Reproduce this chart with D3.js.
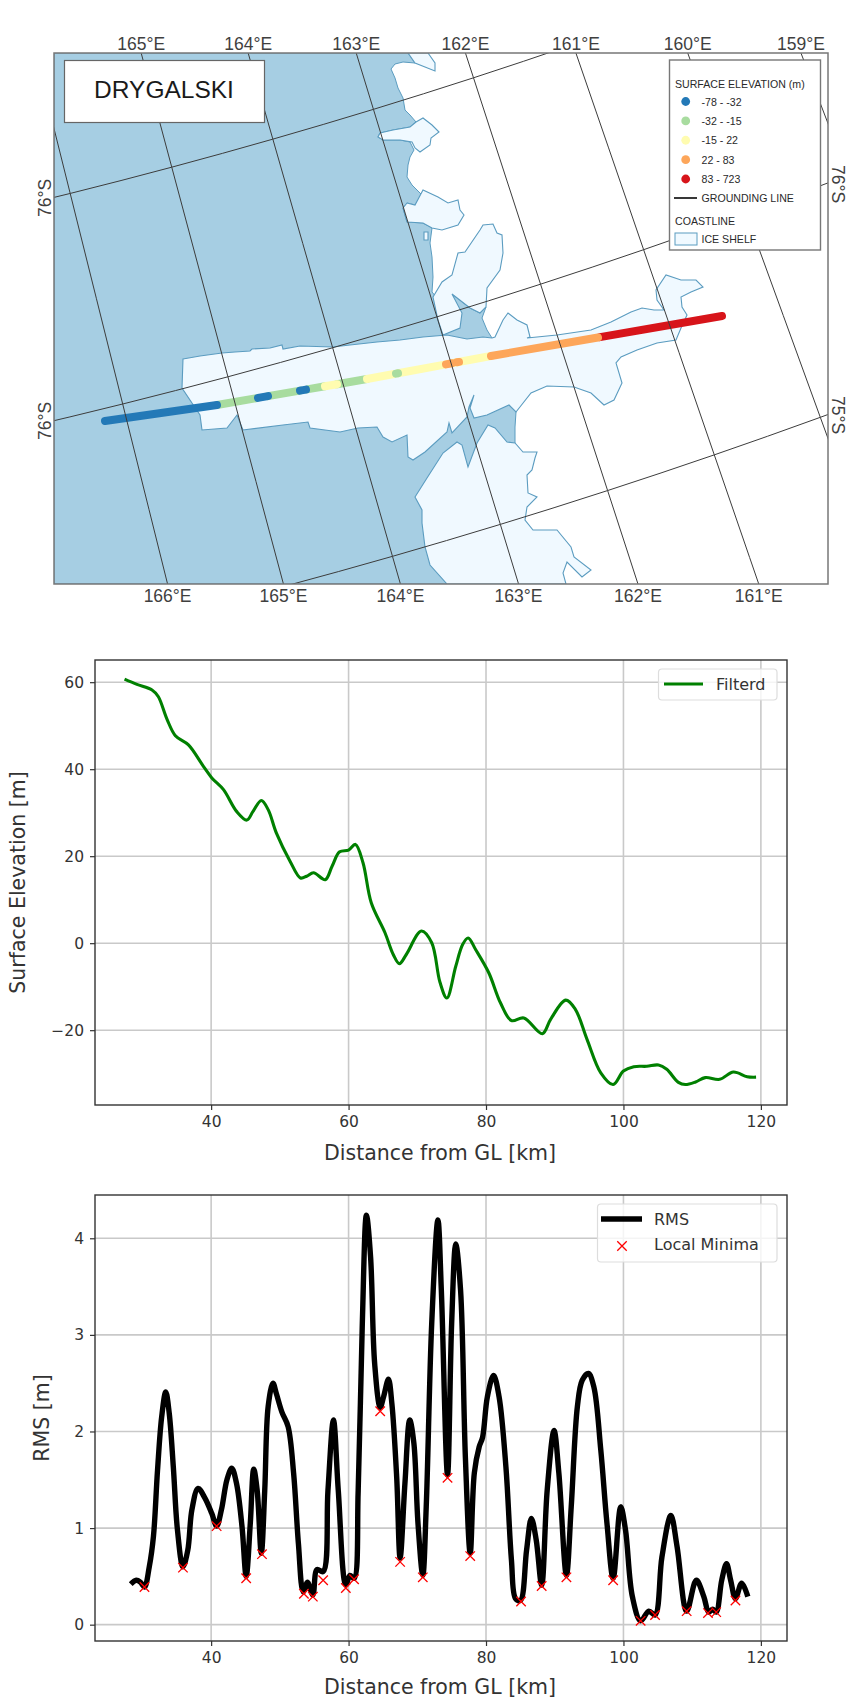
<!DOCTYPE html>
<html>
<head>
<meta charset="utf-8">
<script src="https://cdn.jsdelivr.net/npm/d3@7"></script>
<style>
  body { margin: 0; background: #fff; }
  svg { display: block; }
  .mpl text { font-family: "DejaVu Sans"; fill: #333; }
  .map text { font-family: "Liberation Sans"; }
</style>
</head>
<body>
<div id="wrapper"></div>
<script>
////// MAP DATA //////
let meridians = [159, 160, 161, 162, 163, 164, 165, 166];
let parallels = [-76.5, -76, -75.5];
let topLabels = [[165, '165°E'], [164, '164°E'], [163, '163°E'], [162, '162°E'], [161, '161°E'], [160, '160°E'], [159, '159°E']];
let bottomLabels = [[166, '166°E'], [165, '165°E'], [164, '164°E'], [163, '163°E'], [162, '162°E'], [161, '161°E']];

// outlines are in map units, origin at the top left of the frame
let waterOutline = [[0,0],[354,0],[361,10],[349,9],[341,11],[337,16],[341,25],[344,35],[349,45],[351,57],[356,62],[362,69],[356,74],[339,77],[326,80],[324,84],[329,87],[346,87],[356,89],[360,97],[356,104],[354,112],[353,124],[358,132],[368,142],[361,152],[353,150],[349,155],[353,169],[369,170],[378,175],[376,190],[378,204],[379,224],[378,239],[383,245],[398,241],[416,255],[426,260],[432,254],[428,265],[433,277],[438,285],[462,359],[461,374],[461,390],[393,531],[0,531]];
let shelfTop = [[354,0],[361,10],[371,14],[381,18],[381,10],[374,0]];
let shelfSmall = [[326,80],[339,77],[356,74],[362,69],[369,65],[378,72],[385,79],[377,85],[376,92],[366,99],[361,95],[358,89],[346,87],[329,87],[324,84]];
let shelfMid = [[353,150],[361,152],[369,137],[384,144],[394,150],[404,147],[406,157],[410,162],[404,172],[388,177],[378,175],[369,170],[353,169],[349,155]];
let shelfIsland = [[370,179],[374,179],[374,187],[370,187]];
let shelfNorth = [[379,244],[388,229],[398,222],[404,200],[411,199],[426,177],[429,172],[439,171],[443,180],[448,182],[449,200],[446,217],[433,235],[432,254],[426,260],[416,255],[398,241],[408,260],[406,275],[389,282],[384,267]];
let shelfMain = [[129,306],[146,303],[168,300],[181,299],[196,298],[198,296],[216,295],[228,292],[229,296],[246,293],[279,294],[296,292],[323,289],[346,287],[369,284],[393,282],[413,286],[429,284],[438,285],[441,284],[449,267],[454,260],[463,267],[473,272],[476,284],[473,285],[503,282],[537,277],[557,269],[577,259],[588,255],[600,257],[610,257],[603,247],[602,237],[612,222],[627,227],[642,227],[649,234],[637,239],[627,244],[628,254],[633,262],[627,275],[622,287],[603,290],[583,297],[567,304],[562,310],[568,330],[560,347],[550,352],[537,340],[520,334],[493,333],[477,340],[462,359],[455,352],[433,362],[420,365],[416,355],[420,342],[415,354],[413,364],[398,380],[395,370],[393,379],[371,399],[359,407],[354,404],[353,382],[338,389],[329,384],[323,374],[304,375],[286,379],[256,375],[254,369],[229,372],[189,377],[183,362],[173,375],[148,377],[146,362],[144,359],[128,335]];
let shelfSouth = [[361,444],[373,425],[389,400],[403,389],[408,392],[414,414],[423,390],[434,372],[441,375],[453,389],[461,390],[469,399],[483,399],[481,405],[478,417],[473,422],[474,440],[483,444],[473,454],[471,467],[479,477],[503,477],[517,494],[520,504],[537,517],[528,524],[513,509],[509,520],[512,531],[393,531],[376,512],[371,494],[368,470],[368,457]];

let trackEast = [51, 163, 313, 437, 547, 668];
let trackNorth = [368, 352, 326, 303, 284, 263];
// [from, to, elevation class], drawn in this order
let trackSegments = [
  [163,203,1],[214,246,1],[253,271,1],[283,313,1],
  [51,163,0],[204,214,0],[246,252,0],
  [271,283,2],[313,340,2],[344,392,2],[399,437,2],
  [342,344,1],[392,398,3],[403,405,3],
  [546,668,4],[437,544,3]
];

let elevClasses = ['-78 - -32', '-32 - -15', '-15 - 22', '22 - 83', '83 - 723'];
let elevColors = ['#2379b7', '#a8dc9f', '#fffcb0', '#fda65a', '#d7141a'];

////// PROFILE DATA //////
let surfaceKm = [27.4,29.2,31.4,32.3,33.6,34.8,36.7,38.9,40.1,41.8,43.7,45.2,46.1,47.3,48.3,49.5,51.5,53,53.9,54.9,56.6,57.6,58.7,60,61,62.1,63.3,65.3,66.5,67.4,68.4,70.6,72.1,73.3,74.3,75.6,76.6,77.4,78.5,80.4,82.1,83.7,85.5,88.2,89.4,91.6,93,94.7,96.7,98.5,100,101.5,103.4,105.1,106.3,108,109,110.5,111.9,114,116,118,119.3];
let surfaceElev = [60.7,59.5,58.2,56.7,51.4,47.7,45.6,40.6,38,35.3,30.3,28.3,30.3,32.8,30.7,25.3,18.8,15,15.4,16.2,14.6,17.7,21,21.4,22.7,18.5,9.3,2.4,-2.6,-4.7,-2.6,2.8,0.1,-9,-12.6,-5.3,-0.3,1.2,-1.5,-6.8,-13.7,-17.8,-17.2,-20.8,-17.5,-13.1,-15.2,-22.1,-29.8,-32.5,-29.4,-28.4,-28.3,-28,-29,-32,-32.5,-31.9,-30.9,-31.3,-29.6,-30.7,-30.8];

let rmsKm = [28.3,29.1,29.7,30.3,31,31.6,32.2,32.8,33.4,33.9,34.5,35.1,35.9,36.6,37.2,38.1,39.1,40.1,40.8,41.5,42.3,43,43.7,44.5,45.1,45.7,46.2,46.7,47.3,47.8,48.3,49,49.5,50.3,51.2,52,52.7,53.4,54,54.8,55.4,56.3,57,57.8,58.5,59.6,60.2,60.8,61.4,62,62.6,63.2,63.8,64.6,65.1,65.8,66.3,67,67.5,68.2,68.9,69.5,70.1,70.8,71.3,72.1,73,73.5,74.4,75,75.6,76.3,77,77.7,78.3,79,79.5,80.2,81.1,81.9,82.9,83.7,84.3,85,85.9,86.6,87.3,88.1,88.9,89.9,90.6,91.7,92.4,93.3,94,94.9,95.7,96.7,97.6,98.5,99.6,100.3,101.3,102.5,103.7,104.6,105.6,106.9,107.8,109.2,110.6,111.7,112.4,113,113.5,114.3,115,115.6,116.3,117.2,118.1];
let rmsVal = [0.42,0.46,0.44,0.39,0.6,0.91,1.6,2.15,2.41,2.19,1.63,0.98,0.6,0.77,1.19,1.41,1.31,1.15,1.02,1.19,1.5,1.62,1.46,1.01,0.5,1.05,1.61,1.39,0.74,1.39,2.26,2.5,2.39,2.2,2.05,1.57,0.84,0.34,0.44,0.31,0.57,0.55,1.39,2.12,1.39,0.41,0.51,0.48,1.39,3.12,4.24,3.81,2.7,2.25,2.36,2.54,2.29,1.53,0.69,1.46,2.12,1.88,1.05,0.51,1.22,3.12,4.19,3.46,1.55,3.12,3.94,3.46,1.73,0.74,1.57,1.84,1.94,2.36,2.58,2.36,1.63,0.67,0.27,0.25,0.77,1.1,0.88,0.41,1.39,2.01,1.57,0.51,1.22,2.26,2.53,2.6,2.46,1.81,1.05,0.48,1.22,0.98,0.29,0.04,0.14,0.1,0.7,1.13,0.81,0.14,0.46,0.29,0.13,0.16,0.13,0.46,0.63,0.46,0.27,0.43,0.29];
let minimaKm = [30.3,35.9,40.8,45.1,47.4,53.5,54.8,56.3,59.6,60.8,64.6,67.5,70.8,74.4,77.7,85.1,88.1,91.7,98.5,102.5,104.6,109.2,112.3,113.5,116.3];
let minimaVal = [0.39,0.59,1.02,0.48,0.73,0.32,0.29,0.46,0.38,0.47,2.21,0.65,0.49,1.52,0.71,0.24,0.40,0.49,0.46,0.04,0.10,0.14,0.12,0.13,0.25];

let kmTicks = [40, 60, 80, 100, 120];
let elevTicks = [-20, 0, 20, 40, 60];
let rmsTicks = [0, 1, 2, 3, 4];

let svg = d3.select('#wrapper').append('svg').attr('width', 854).attr('height', 1704);

////// MAP //////
let frame = {left: 54, right: 828, top: 53, bottom: 584};
let mapG = svg.append('g').classed('map', true);

let mapX = d3.scaleLinear().domain([0, 774]).range([frame.left, frame.right]);
let mapY = d3.scaleLinear().domain([0, 531]).range([frame.top, frame.bottom]);
let outline = d3.line().x(d=> mapX(d[0])).y(d=> mapY(d[1])).curve(d3.curveLinearClosed);

// polar stereo looks fine here, just radius from the pole and angle off 180E
let pole = [-1384, -5639];
let radius = d3.scaleLinear().domain([-76.5, -76]).range([6011, 6228]);
let project = (lon, lat)=> {
    let a = (180 - lon) * Math.PI / 180;
    return [pole[0] + radius(lat) * Math.sin(a), pole[1] + radius(lat) * Math.cos(a)];
};

mapG.append('clipPath').attr('id', 'frame-clip').append('rect')
    .attr('x', frame.left).attr('y', frame.top)
    .attr('width', frame.right - frame.left).attr('height', frame.bottom - frame.top);

let mapInner = mapG.append('g').attr('clip-path', 'url(#frame-clip)');
mapInner.append('path').attr('d', outline(waterOutline))
    .attr('fill', '#a6cee3').attr('stroke', '#5b9cc0').attr('stroke-width', 1);

let shelves = [shelfTop, shelfSmall, shelfMid, shelfIsland, shelfNorth, shelfMain, shelfSouth];
mapInner.selectAll('.shelf').data(shelves).enter().append('path').classed('shelf', true)
    .attr('d', d=> outline(d))
    .attr('fill', '#f0f9ff').attr('stroke', '#5b9cc0').attr('stroke-width', 1.1);

let trackY = d3.scaleLinear().domain(trackEast).range(trackNorth);
mapInner.selectAll('.track').data(trackSegments).enter().append('line').classed('track', true)
    .attr('x1', d=> mapX(d[0])).attr('x2', d=> mapX(d[1]))
    .attr('y1', d=> mapY(trackY(d[0]))).attr('y2', d=> mapY(trackY(d[1])))
    .attr('stroke', d=> elevColors[d[2]]).attr('stroke-width', 8).attr('stroke-linecap', 'round');

let gratLine = d3.line();
let lonSweep = d3.range(150, 175, 0.5);
let latSweep = d3.range(-77.5, -74, 0.25);
let grat = mapInner.append('g').attr('fill', 'none').attr('stroke', '#3c3c3c').attr('stroke-width', 1);
grat.selectAll('.mer').data(meridians).enter().append('path').attr('d', lon=> gratLine(latSweep.map(lat=> project(lon, lat))));
grat.selectAll('.par').data(parallels).enter().append('path').attr('d', lat=> gratLine(lonSweep.map(lon=> project(lon, lat))));

mapG.append('rect').attr('x', frame.left).attr('y', frame.top)
    .attr('width', frame.right - frame.left).attr('height', frame.bottom - frame.top)
    .attr('fill', 'none').attr('stroke', '#777').attr('stroke-width', 1.5);

// lon label sits where the meridian hits the frame
let lonAtY = (lon, y)=> {
    let a = (180 - lon) * Math.PI / 180;
    return pole[0] + (y - pole[1]) * Math.tan(a);
};
let labelStyle = sel=> sel.attr('font-size', 17.5).attr('fill', '#3f3f3f').attr('text-anchor', 'middle');
mapG.selectAll('.top-lab').data(topLabels).enter().append('text').call(labelStyle)
    .attr('x', d=> lonAtY(d[0], frame.top)).attr('y', 49.5).text(d=> d[1]);
mapG.selectAll('.bot-lab').data(bottomLabels).enter().append('text').call(labelStyle)
    .attr('x', d=> lonAtY(d[0], frame.bottom)).attr('y', 601.5).text(d=> d[1]);

let sideLabels = [[51, 198, -90, '76°S'], [51, 421, -90, '76°S'], [832, 184, 90, '76°S'], [832, 415, 90, '75°S']];
mapG.selectAll('.side-lab').data(sideLabels).enter().append('text').call(labelStyle)
    .attr('transform', d=> 'translate(' + d[0] + ',' + d[1] + ') rotate(' + d[2] + ')')
    .text(d=> d[3]);

// title box
mapG.append('rect').attr('x', 64.5).attr('y', 60.5).attr('width', 200).attr('height', 62)
    .attr('fill', '#fff').attr('stroke', '#666').attr('stroke-width', 1.2);
mapG.append('text').attr('x', 164).attr('y', 98).attr('text-anchor', 'middle')
    .attr('font-size', 24.5).attr('fill', '#1a1a1a').text('DRYGALSKI');

// legend
let leg = mapG.append('g');
leg.append('rect').attr('x', 669.5).attr('y', 60).attr('width', 151).attr('height', 190)
    .attr('fill', '#fff').attr('stroke', '#777').attr('stroke-width', 1.4);
let legText = (x, y, t)=> leg.append('text').attr('x', x).attr('y', y).attr('font-size', 10.6)
    .attr('fill', '#2a2a2a').text(t);
legText(675, 88, 'SURFACE ELEVATION (m)');
let rowY = d3.scaleLinear().domain([0, 4]).range([101.5, 179]);
elevClasses.forEach((c, i)=> {
    leg.append('circle').attr('cx', 685.7).attr('cy', rowY(i)).attr('r', 4.4).attr('fill', elevColors[i]);
    legText(701.5, rowY(i) + 4, c);
});
leg.append('line').attr('x1', 674).attr('x2', 697).attr('y1', 198).attr('y2', 198)
    .attr('stroke', '#222').attr('stroke-width', 1.8);
legText(701.5, 202, 'GROUNDING LINE');
legText(675, 225, 'COASTLINE');
leg.append('rect').attr('x', 675).attr('y', 233).attr('width', 22).attr('height', 12)
    .attr('fill', '#f0f9ff').attr('stroke', '#5b9cc0').attr('stroke-width', 1);
legText(701.5, 243, 'ICE SHELF');

////// LINE PANELS //////
function makePanel(top, bottom, yDomain, yTicks, yLabel, yLabelX, xLabelY) {
    let g = svg.append('g').classed('mpl', true);
    let x = d3.scaleLinear().domain([23.1, 123.8]).range([95, 787]);
    let y = d3.scaleLinear().domain(yDomain).range([bottom, top]);

    let grid = g.append('g').attr('stroke', '#c9c9c9').attr('stroke-width', 1.6);
    grid.selectAll('.gx').data(kmTicks).enter().append('line')
        .attr('x1', d=> x(d)).attr('x2', d=> x(d)).attr('y1', top).attr('y2', bottom);
    grid.selectAll('.gy').data(yTicks).enter().append('line')
        .attr('x1', 95).attr('x2', 787).attr('y1', d=> y(d)).attr('y2', d=> y(d));

    let xAxis = g.append('g').attr('transform', 'translate(0,' + bottom + ')')
        .call(d3.axisBottom(x).tickValues(kmTicks).tickSizeOuter(0).tickSize(5).tickPadding(6));
    let yAxis = g.append('g').attr('transform', 'translate(95,0)')
        .call(d3.axisLeft(y).tickValues(yTicks).tickFormat(d=> String(d).replace('-', '\u2212')).tickSizeOuter(0).tickSize(5).tickPadding(6));
    [xAxis, yAxis].forEach(a=> {
        a.select('.domain').remove();
        a.selectAll('text').attr('font-family', 'DejaVu Sans').attr('font-size', 15.5).attr('fill', '#333');
        a.selectAll('line').attr('stroke', '#333').attr('stroke-width', 1.2);
    });

    g.append('text').attr('x', 440).attr('y', xLabelY).attr('text-anchor', 'middle')
        .attr('font-size', 20.5).text('Distance from GL [km]');
    g.append('text').attr('transform', 'translate(' + yLabelX + ',' + ((top + bottom) / 2) + ') rotate(-90)')
        .attr('text-anchor', 'middle').attr('font-size', 20.5).text(yLabel);

    return {g, x, y, top, bottom};
}

function drawSpines(p) {
    p.g.append('rect').attr('x', 95).attr('y', p.top).attr('width', 692).attr('height', p.bottom - p.top)
        .attr('fill', 'none').attr('stroke', '#333').attr('stroke-width', 1.4);
}

function legendBox(p, x, y, w, h) {
    p.g.append('rect').attr('x', x).attr('y', y).attr('width', w).attr('height', h).attr('rx', 3.5)
        .attr('fill', '#fff').attr('fill-opacity', 0.8).attr('stroke', '#ddd').attr('stroke-width', 1.2);
}

// surface elevation
let elevPanel = makePanel(660, 1105, [-37.2, 65.1], elevTicks, 'Surface Elevation [m]', 25, 1160);
let elevLine = d3.line().x((d, i)=> elevPanel.x(surfaceKm[i])).y(d=> elevPanel.y(d)).curve(d3.curveCatmullRom);
elevPanel.g.append('path').datum(surfaceElev).attr('d', elevLine)
    .attr('fill', 'none').attr('stroke', '#008000').attr('stroke-width', 3.1);
drawSpines(elevPanel);
legendBox(elevPanel, 658.5, 669, 118.5, 31);
elevPanel.g.append('line').attr('x1', 664).attr('x2', 703).attr('y1', 684).attr('y2', 684)
    .attr('stroke', '#008000').attr('stroke-width', 3.1);
elevPanel.g.append('text').attr('x', 716).attr('y', 690).attr('font-size', 16).text('Filterd');

// RMS
let rmsPanel = makePanel(1195, 1641, [-0.169, 4.448], rmsTicks, 'RMS [m]', 49, 1694);
let rmsLine = d3.line().x((d, i)=> rmsPanel.x(rmsKm[i])).y(d=> rmsPanel.y(d)).curve(d3.curveCatmullRom);
rmsPanel.g.append('path').datum(rmsVal).attr('d', rmsLine)
    .attr('fill', 'none').attr('stroke', '#000').attr('stroke-width', 5.4).attr('stroke-linejoin', 'round');

let cross = d3.symbol().type(d3.symbolX).size(60);
let minima = minimaKm.map((k, i)=> [k, minimaVal[i]]);
rmsPanel.g.selectAll('.minima').data(minima).enter().append('path').classed('minima', true)
    .attr('d', cross)
    .attr('transform', d=> 'translate(' + rmsPanel.x(d[0]) + ',' + rmsPanel.y(d[1]) + ')')
    .attr('fill', 'none').attr('stroke', '#f00').attr('stroke-width', 1.3);
drawSpines(rmsPanel);
legendBox(rmsPanel, 597.5, 1204, 179.5, 58);
rmsPanel.g.append('line').attr('x1', 601).attr('x2', 642).attr('y1', 1219).attr('y2', 1219)
    .attr('stroke', '#000').attr('stroke-width', 5.4);
rmsPanel.g.append('text').attr('x', 654).attr('y', 1225).attr('font-size', 16).text('RMS');
rmsPanel.g.append('path').attr('d', cross).attr('transform', 'translate(622,1246)')
    .attr('fill', 'none').attr('stroke', '#f00').attr('stroke-width', 1.3);
rmsPanel.g.append('text').attr('x', 654).attr('y', 1250).attr('font-size', 16).text('Local Minima');
</script>
</body>
</html>
